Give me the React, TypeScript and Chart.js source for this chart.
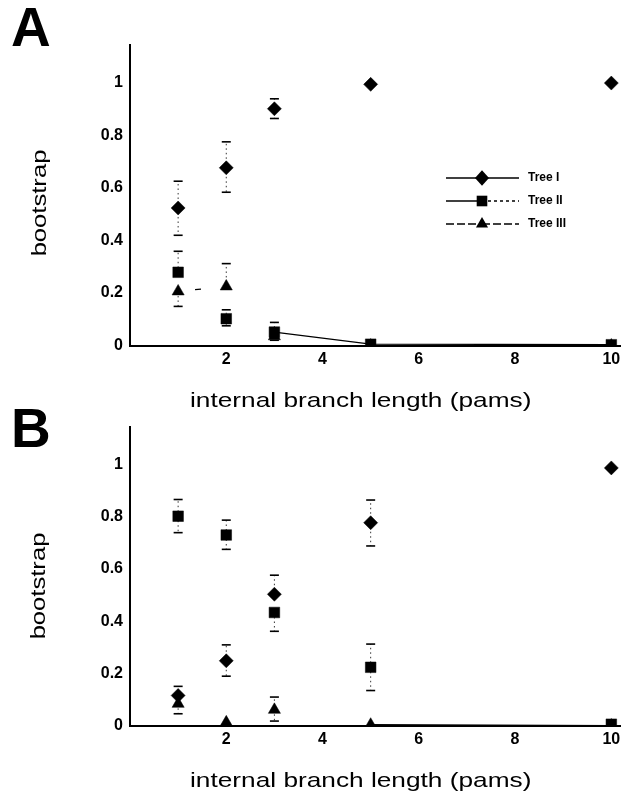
import React, { useEffect, useRef } from "react";
import { Chart, registerables } from "chart.js";

Chart.register(...registerables);

// ---------- data ----------
const xValues = [1, 2, 3, 5, 10];
const xTicks = [2, 4, 6, 8, 10];
const xTickLabels = ["2", "4", "6", "8", "10"];
const yTicks = [0, 0.2, 0.4, 0.6, 0.8, 1];
const yTickLabels = ["0", "0.2", "0.4", "0.6", "0.8", "1"];
const seriesNames = ["Tree I", "Tree II", "Tree III"];
const xTitle = "internal branch length (pams)";
const yTitle = "bootstrap";

// Panel A
const aTree1 = [0.524, 0.677, 0.902, 0.995, 1.0];
const aTree1Hi = [0.626, 0.776, 0.94, null, null];
const aTree1Lo = [0.42, 0.584, 0.865, null, null];
const aTree2 = [0.279, 0.102, 0.051, 0.005, 0.003];
const aTree2Hi = [0.359, 0.136, 0.088, null, null];
const aTree2Lo = [null, 0.075, 0.02, null, null];
const aTree3 = [0.206, 0.225, 0.035, 0.0, 0.0];
const aTree3Hi = [null, 0.312, null, null, null];
const aTree3Lo = [0.149, null, null, null, null];

// Panel B
const bTree1 = [0.115, 0.248, 0.503, 0.777, 0.987];
const bTree1Hi = [0.15, 0.309, 0.576, 0.864, null];
const bTree1Lo = [null, 0.189, null, 0.688, null];
const bTree2 = [0.802, 0.73, 0.433, 0.223, 0.005];
const bTree2Hi = [0.866, 0.787, null, 0.312, null];
const bTree2Lo = [0.739, 0.675, 0.361, 0.134, null];
const bTree3 = [0.083, 0.012, 0.06, 0.003, 0.0];
const bTree3Hi = [null, null, 0.109, null, null];
const bTree3Lo = [0.045, null, 0.017, null, null];

// ---------- styles ----------
const FONT = "'Liberation Sans', Arial, Helvetica, sans-serif";
const markers = ["rectRot", "rect", "triangle"];
const markerRadius = [7, 7.5, 7];

// which connecting segments are visible (style, not data)
type Seg = null | "solid" | { dash: number[]; offset: number };
const segStylesA: Seg[][] = [
  [null, null, null, null],
  [null, null, "solid", "solid"],
  [{ dash: [6, 100], offset: -17 }, null, null, "solid"],
];
const segStylesB: Seg[][] = [
  [null, null, null, null],
  [null, null, null, null],
  [null, null, null, "solid"],
];

const errorBarPlugin = {
  id: "errorBars",
  beforeDatasetsDraw(chart: any) {
    const ctx = chart.ctx;
    const xs = chart.scales.x;
    const ys = chart.scales.y;
    chart.data.datasets.forEach((ds: any) => {
      ds.data.forEach((pt: any, i: number) => {
        const px = xs.getPixelForValue(pt.x);
        const py = ys.getPixelForValue(pt.y);
        [ds.errHi?.[i], ds.errLo?.[i]].forEach((v: any) => {
          if (v === null || v === undefined) return;
          const ey = ys.getPixelForValue(v);
          ctx.save();
          ctx.strokeStyle = "#000";
          ctx.lineWidth = 0.8;
          ctx.setLineDash([1.5, 3]);
          ctx.beginPath();
          ctx.moveTo(px, py);
          ctx.lineTo(px, ey);
          ctx.stroke();
          ctx.setLineDash([]);
          ctx.lineWidth = 1.6;
          ctx.beginPath();
          ctx.moveTo(px - 4.5, ey);
          ctx.lineTo(px + 4.5, ey);
          ctx.stroke();
          ctx.restore();
        });
      });
    });
  },
};

function drawMarker(ctx: CanvasRenderingContext2D, style: string, x: number, y: number, r: number) {
  ctx.beginPath();
  if (style === "rectRot") {
    ctx.moveTo(x - r, y);
    ctx.lineTo(x, y - r * 1.1);
    ctx.lineTo(x + r, y);
    ctx.lineTo(x, y + r * 1.1);
  } else if (style === "rect") {
    const s = r * Math.SQRT1_2;
    ctx.rect(x - s, y - s, 2 * s, 2 * s);
  } else {
    ctx.moveTo(x, y - r);
    ctx.lineTo(x + r * 0.866, y + r * 0.5);
    ctx.lineTo(x - r * 0.866, y + r * 0.5);
  }
  ctx.closePath();
  ctx.fill();
}

const legendPlugin = {
  id: "treeLegend",
  afterDraw(chart: any) {
    const ctx = chart.ctx;
    const rows = [178, 201, 224];
    const x0 = 446;
    const x1 = 519;
    const xm = 482;
    const dashesL = [[], [], [8, 3]];
    const dashesR = [[], [3, 3], [8, 3]];
    ctx.save();
    ctx.strokeStyle = "#000";
    ctx.fillStyle = "#000";
    ctx.lineWidth = 1.5;
    seriesNames.forEach((name, i) => {
      const y = rows[i];
      ctx.setLineDash(dashesL[i]);
      ctx.beginPath();
      ctx.moveTo(x0, y);
      ctx.lineTo(xm, y);
      ctx.stroke();
      ctx.setLineDash(dashesR[i]);
      ctx.beginPath();
      ctx.moveTo(xm, y);
      ctx.lineTo(x1, y);
      ctx.stroke();
      ctx.setLineDash([]);
      drawMarker(ctx, markers[i], xm, y, markerRadius[i]);
      ctx.font = `bold 12px ${FONT}`;
      ctx.textAlign = "left";
      ctx.textBaseline = "middle";
      ctx.fillText(name, 528, y);
    });
    ctx.restore();
  },
};

type PanelProps = {
  series: number[][];
  hi: (number | null)[][];
  lo: (number | null)[][];
  segs: Seg[][];
  padTop: number;
  padBottom: number;
  height: number;
  legend: boolean;
};

function PanelChart(props: PanelProps) {
  const ref = useRef<HTMLCanvasElement | null>(null);
  useEffect(() => {
    if (!ref.current) return;
    const datasets = props.series.map((vals, si) => ({
      label: seriesNames[si],
      data: vals.map((v, i) => ({ x: xValues[i], y: v })),
      errHi: props.hi[si],
      errLo: props.lo[si],
      showLine: true,
      borderColor: "#000",
      backgroundColor: "#000",
      borderWidth: 1.2,
      pointStyle: markers[si],
      pointRadius: markerRadius[si],
      pointBorderWidth: 0.5,
      pointBackgroundColor: "#000",
      pointBorderColor: "#000",
      tension: 0,
      segment: {
        borderColor: (c: any) => (props.segs[si][c.p0DataIndex] ? "#000" : "rgba(0,0,0,0)"),
        borderDash: (c: any) => {
          const s = props.segs[si][c.p0DataIndex];
          return s && typeof s === "object" ? s.dash : [];
        },
        borderDashOffset: (c: any) => {
          const s = props.segs[si][c.p0DataIndex];
          return s && typeof s === "object" ? s.offset : 0;
        },
      },
    }));
    const chart = new Chart(ref.current, {
      type: "scatter",
      data: { datasets } as any,
      options: {
        animation: false,
        responsive: false,
        devicePixelRatio: 1,
        layout: { padding: { top: props.padTop, bottom: props.padBottom, left: 0, right: 2 } },
        plugins: { legend: { display: false }, tooltip: { enabled: false } },
        scales: {
          x: {
            type: "linear",
            min: 0,
            max: 10.18,
            grid: { display: false, drawTicks: false },
            border: { display: true, color: "#000", width: 2 },
            ticks: {
              color: "#000",
              padding: 4,
              autoSkip: false,
              maxRotation: 0,
              font: { family: FONT, size: 16, weight: "bold" },
              callback: (_v: any, i: number) => xTickLabels[i],
            },
            afterBuildTicks: (s: any) => {
              s.ticks = xTicks.map((v) => ({ value: v }));
            },
            afterFit: (s: any) => {
              s.height = 30;
            },
          },
          y: {
            type: "linear",
            min: 0,
            max: 1.145,
            grid: { display: false, drawTicks: false },
            border: { display: true, color: "#000", width: 2 },
            ticks: {
              color: "#000",
              padding: 7,
              autoSkip: false,
              font: { family: FONT, size: 16, weight: "bold" },
              callback: (_v: any, i: number) => yTickLabels[i],
            },
            afterBuildTicks: (s: any) => {
              s.ticks = yTicks.map((v) => ({ value: v }));
            },
            afterFit: (s: any) => {
              s.width = 130;
            },
          },
        },
      } as any,
      plugins: props.legend ? [errorBarPlugin, legendPlugin] : [errorBarPlugin],
    });
    return () => chart.destroy();
  }, []);
  return <canvas ref={ref} width={628} height={props.height} style={{ display: "block", width: 628, height: props.height }} />;
}

const titleStyle: React.CSSProperties = {
  position: "absolute",
  left: 190,
  fontFamily: FONT,
  fontSize: 21,
  lineHeight: "21px",
  whiteSpace: "nowrap",
  transform: "scaleX(1.25)",
  transformOrigin: "left center",
  color: "#000",
};

const yTitleStyle = (cx: number, cy: number): React.CSSProperties => ({
  position: "absolute",
  left: cx,
  top: cy,
  fontFamily: FONT,
  fontSize: 20,
  lineHeight: "20px",
  whiteSpace: "nowrap",
  transform: "translate(-50%, -50%) rotate(-90deg) scaleX(1.28)",
  color: "#000",
});

const letterStyle = (top: number): React.CSSProperties => ({
  position: "absolute",
  left: 11,
  top,
  fontFamily: FONT,
  fontWeight: 900,
  fontSize: 55,
  lineHeight: "55px",
  color: "#000",
});

export default function App() {
  return (
    <div style={{ position: "fixed", left: 0, top: 0, width: 628, height: 795, background: "#fff", overflow: "hidden" }}>
      <div style={{ position: "absolute", left: 0, top: 0 }}>
        <PanelChart
          series={[aTree1, aTree2, aTree3]}
          hi={[aTree1Hi, aTree2Hi, aTree3Hi]}
          lo={[aTree1Lo, aTree2Lo, aTree3Lo]}
          segs={segStylesA}
          padTop={45}
          padBottom={4.5}
          height={380}
          legend={true}
        />
      </div>
      <div style={{ position: "absolute", left: 0, top: 380 }}>
        <PanelChart
          series={[bTree1, bTree2, bTree3]}
          hi={[bTree1Hi, bTree2Hi, bTree3Hi]}
          lo={[bTree1Lo, bTree2Lo, bTree3Lo]}
          segs={segStylesB}
          padTop={46.7}
          padBottom={39.5}
          height={415}
          legend={false}
        />
      </div>
      <div style={letterStyle(0)}>A</div>
      <div style={letterStyle(401)}>B</div>
      <div style={{ ...titleStyle, top: 389 }}>{xTitle}</div>
      <div style={{ ...titleStyle, top: 769 }}>{xTitle}</div>
      <div style={yTitleStyle(39, 203)}>{yTitle}</div>
      <div style={yTitleStyle(38, 586)}>{yTitle}</div>
    </div>
  );
}
